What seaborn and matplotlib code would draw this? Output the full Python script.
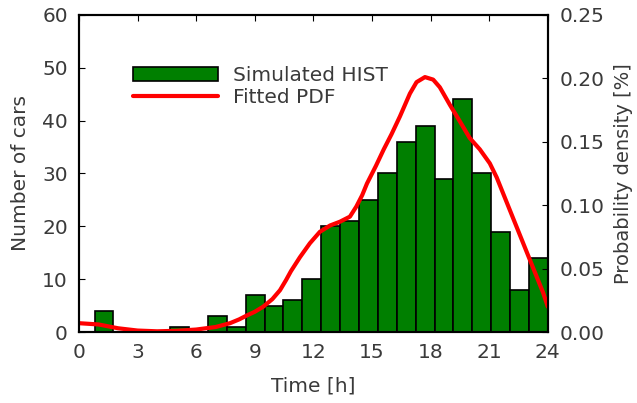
import numpy as np
import pandas as pd
import matplotlib
matplotlib.use("Agg")
import matplotlib.pyplot as plt
import seaborn as sns

# Histograma simulado: 24 bins entre hist_start y hist_end
hist_start = 0.8
hist_end = 24.0
car_counts = [4, 0, 0, 0, 1, 0, 3, 1, 7, 5, 6, 10,
              20, 21, 25, 30, 36, 39, 29, 44, 30, 19, 8, 14]

# Curva PDF ajustada
pdf_hours = [0.0, 1.0, 2.0, 3.0, 4.0, 5.0, 6.0, 7.0, 7.73, 8.2, 8.58, 9.0,
             9.43, 9.9, 10.29, 10.6, 10.85, 11.31, 11.82, 12.33, 12.85,
             13.36, 13.87, 14.2, 14.5, 14.74, 15.2, 15.6, 16.0, 16.43, 16.94,
             17.28, 17.71, 18.13, 18.47, 18.99, 19.5, 20.0, 20.52, 21.03,
             21.38, 21.72, 22.06, 22.4, 22.74, 23.08, 23.42, 23.76, 24.0]
pdf_density = [0.007, 0.006, 0.003, 0.0012, 0.0006, 0.001, 0.002, 0.004, 0.007,
               0.010, 0.013, 0.016, 0.020, 0.026, 0.033, 0.041, 0.048, 0.059,
               0.070, 0.079, 0.084, 0.087, 0.091, 0.099, 0.108, 0.117, 0.131,
               0.144, 0.156, 0.170, 0.188, 0.197, 0.201, 0.199, 0.193, 0.179,
               0.166, 0.153, 0.144, 0.133, 0.122, 0.109, 0.096, 0.083, 0.070,
               0.057, 0.044, 0.031, 0.020]

x_ticks = [0, 3, 6, 9, 12, 15, 18, 21, 24]

sns.set_style("white")
plt.rcParams["font.family"] = ["DejaVu Sans"]
plt.rcParams["text.color"] = "#3a3a3a"
plt.rcParams["axes.labelcolor"] = "#3a3a3a"
plt.rcParams["xtick.color"] = "#3a3a3a"
plt.rcParams["ytick.color"] = "#3a3a3a"

FS = 14.5

edges = np.linspace(hist_start, hist_end, len(car_counts) + 1)
centers = (edges[:-1] + edges[1:]) / 2
# un registro por coche, situado en el centro de su bin
df = pd.DataFrame({"hora": np.repeat(centers, car_counts)})

fig = plt.figure(figsize=(6.37, 4.03), dpi=100)
ax = fig.add_axes([0.124, 0.176, 0.736, 0.787])

sns.histplot(data=df, x="hora", bins=list(edges), ax=ax,
             color="#007f00", edgecolor="black", linewidth=1.2, alpha=1,
             label="Simulated HIST")

ax2 = ax.twinx()
sns.lineplot(x=pdf_hours, y=pdf_density, ax=ax2, color="red", linewidth=3,
             label="Fitted PDF", legend=False)

ax.set_xlim(0, 24)
ax.set_ylim(0, 60)
ax2.set_ylim(0, 0.25)
ax.set_xticks(x_ticks)
ax.set_yticks(range(0, 61, 10))
ax2.set_yticks([0, 0.05, 0.10, 0.15, 0.20, 0.25])
ax2.set_yticklabels(["0.00", "0.05", "0.10", "0.15", "0.20", "0.25"])

ax.set_xlabel("Time [h]", fontsize=FS, labelpad=10)
ax.set_ylabel("Number of cars", fontsize=FS, labelpad=9)
ax2.set_ylabel("Probability density [%]", fontsize=FS - 0.5, labelpad=7)

ax.tick_params(direction="in", top=True, length=4, labelsize=FS, pad=8,
               color="black")
ax.tick_params(axis="y", right=False, pad=8)
ax2.tick_params(direction="in", length=4, labelsize=FS, pad=8.5, color="black")
for a in (ax, ax2):
    for sp in a.spines.values():
        sp.set_color("black")
        sp.set_linewidth(1.5)

h1, l1 = ax.get_legend_handles_labels()
h2, l2 = ax2.get_legend_handles_labels()
ax2.legend(h1 + h2, l1 + l2, loc="upper left", bbox_to_anchor=(0.077, 0.897),
           frameon=False, fontsize=FS, handlelength=4.2, handleheight=0.7,
           handletextpad=0.75, labelspacing=0.15)

fig.savefig("out.png", dpi=100)
